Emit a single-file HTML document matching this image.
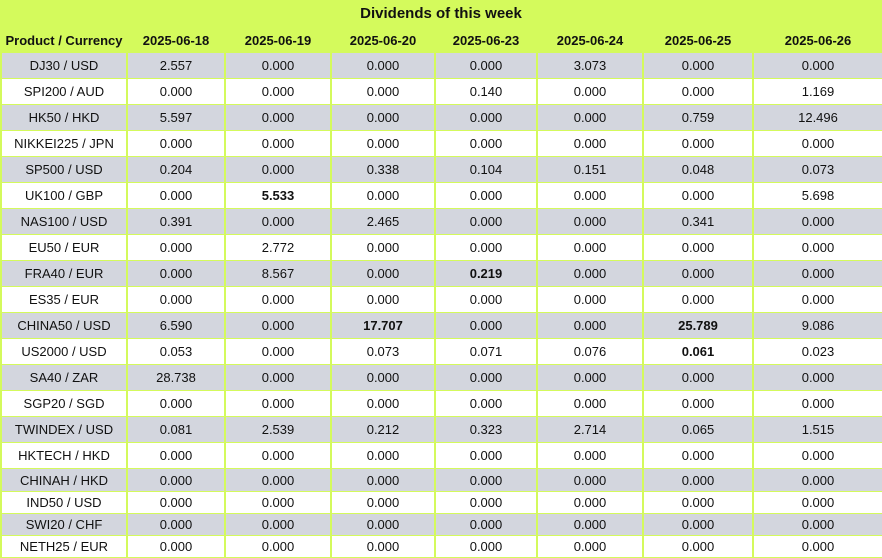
<!DOCTYPE html>
<html><head><meta charset="utf-8">
<style>
html,body{margin:0;padding:0;width:882px;height:555px;overflow:hidden;background:#d4fa5c;}
body{font-family:"Liberation Sans","DejaVu Sans",sans-serif;color:#111;}
#title{position:absolute;left:0;top:0;width:882px;height:27px;line-height:28px;text-align:center;font-weight:bold;font-size:15px;}
table{position:absolute;left:0;top:27px;border-collapse:collapse;table-layout:fixed;width:882px;}
td,th{padding:0;text-align:center;font-size:13px;border:2px solid #d4fa5c;border-top-width:1px;border-bottom-width:1px;white-space:nowrap;overflow:hidden;}
th{height:24px;font-weight:bold;font-size:13px;}
td{height:25px;}
tr:nth-child(even) td{background:#d3d6de;}
tr:nth-child(odd) td{background:#fff;}
tr.s td{height:22px;}
tr.t td{height:21px;}
b{font-weight:bold;}
</style></head><body>
<div id="title">Dividends of this week</div>
<table>
<colgroup><col style="width:126px"><col style="width:98px"><col style="width:106px"><col style="width:104px"><col style="width:102px"><col style="width:106px"><col style="width:110px"><col style="width:130px"></colgroup>
<tr><th>Product / Currency</th><th>2025-06-18</th><th>2025-06-19</th><th>2025-06-20</th><th>2025-06-23</th><th>2025-06-24</th><th>2025-06-25</th><th>2025-06-26</th></tr>
<tr><td>DJ30 / USD</td><td>2.557</td><td>0.000</td><td>0.000</td><td>0.000</td><td>3.073</td><td>0.000</td><td>0.000</td></tr>
<tr><td>SPI200 / AUD</td><td>0.000</td><td>0.000</td><td>0.000</td><td>0.140</td><td>0.000</td><td>0.000</td><td>1.169</td></tr>
<tr><td>HK50 / HKD</td><td>5.597</td><td>0.000</td><td>0.000</td><td>0.000</td><td>0.000</td><td>0.759</td><td>12.496</td></tr>
<tr><td>NIKKEI225 / JPN</td><td>0.000</td><td>0.000</td><td>0.000</td><td>0.000</td><td>0.000</td><td>0.000</td><td>0.000</td></tr>
<tr><td>SP500 / USD</td><td>0.204</td><td>0.000</td><td>0.338</td><td>0.104</td><td>0.151</td><td>0.048</td><td>0.073</td></tr>
<tr><td>UK100 / GBP</td><td>0.000</td><td><b>5.533</b></td><td>0.000</td><td>0.000</td><td>0.000</td><td>0.000</td><td>5.698</td></tr>
<tr><td>NAS100 / USD</td><td>0.391</td><td>0.000</td><td>2.465</td><td>0.000</td><td>0.000</td><td>0.341</td><td>0.000</td></tr>
<tr><td>EU50 / EUR</td><td>0.000</td><td>2.772</td><td>0.000</td><td>0.000</td><td>0.000</td><td>0.000</td><td>0.000</td></tr>
<tr><td>FRA40 / EUR</td><td>0.000</td><td>8.567</td><td>0.000</td><td><b>0.219</b></td><td>0.000</td><td>0.000</td><td>0.000</td></tr>
<tr><td>ES35 / EUR</td><td>0.000</td><td>0.000</td><td>0.000</td><td>0.000</td><td>0.000</td><td>0.000</td><td>0.000</td></tr>
<tr><td>CHINA50 / USD</td><td>6.590</td><td>0.000</td><td><b>17.707</b></td><td>0.000</td><td>0.000</td><td><b>25.789</b></td><td>9.086</td></tr>
<tr><td>US2000 / USD</td><td>0.053</td><td>0.000</td><td>0.073</td><td>0.071</td><td>0.076</td><td><b>0.061</b></td><td>0.023</td></tr>
<tr><td>SA40 / ZAR</td><td>28.738</td><td>0.000</td><td>0.000</td><td>0.000</td><td>0.000</td><td>0.000</td><td>0.000</td></tr>
<tr><td>SGP20 / SGD</td><td>0.000</td><td>0.000</td><td>0.000</td><td>0.000</td><td>0.000</td><td>0.000</td><td>0.000</td></tr>
<tr><td>TWINDEX / USD</td><td>0.081</td><td>2.539</td><td>0.212</td><td>0.323</td><td>2.714</td><td>0.065</td><td>1.515</td></tr>
<tr><td>HKTECH / HKD</td><td>0.000</td><td>0.000</td><td>0.000</td><td>0.000</td><td>0.000</td><td>0.000</td><td>0.000</td></tr>
<tr class="s"><td>CHINAH / HKD</td><td>0.000</td><td>0.000</td><td>0.000</td><td>0.000</td><td>0.000</td><td>0.000</td><td>0.000</td></tr>
<tr class="t"><td>IND50 / USD</td><td>0.000</td><td>0.000</td><td>0.000</td><td>0.000</td><td>0.000</td><td>0.000</td><td>0.000</td></tr>
<tr class="t"><td>SWI20 / CHF</td><td>0.000</td><td>0.000</td><td>0.000</td><td>0.000</td><td>0.000</td><td>0.000</td><td>0.000</td></tr>
<tr class="t"><td>NETH25 / EUR</td><td>0.000</td><td>0.000</td><td>0.000</td><td>0.000</td><td>0.000</td><td>0.000</td><td>0.000</td></tr>
</table>
</body></html>
